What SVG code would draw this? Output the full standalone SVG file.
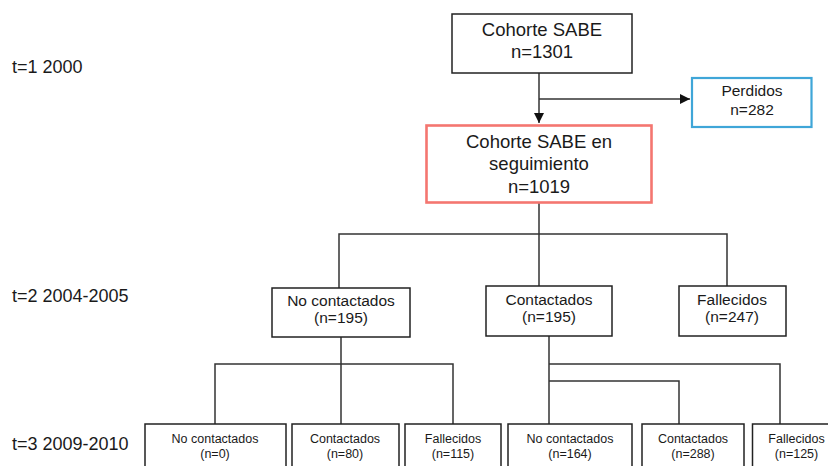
<svg xmlns="http://www.w3.org/2000/svg" width="828" height="466" viewBox="0 0 828 466">
<style>
text{font-family:"Liberation Sans",Arial,Helvetica,sans-serif;fill:#1a1a1a;text-anchor:middle}
.lbl{text-anchor:start;font-size:18px}
.box{fill:#fff;stroke:#222;stroke-width:1.5}
.t1{font-size:18.5px}
.t2{font-size:15.5px}
.t3{font-size:12.5px}
.con{fill:none;stroke:#333;stroke-width:1.5}
</style>
<defs>
<marker id="arr" viewBox="0 0 10 10" refX="10" refY="5" markerWidth="10" markerHeight="10" markerUnits="userSpaceOnUse" orient="auto">
<path d="M0,0 L10,5 L0,10 Z" fill="#111"/>
</marker>
</defs>
<rect width="828" height="466" fill="#fff"/>
<text class="lbl" x="12" y="72.5">t=1 2000</text>
<text class="lbl" x="12" y="302">t=2 2004-2005</text>
<text class="lbl" x="12" y="450">t=3 2009-2010</text>
<g id="connectors">
<path class="con" d="M539,73 V123" marker-end="url(#arr)"/>
<path class="con" d="M539,99 H690" marker-end="url(#arr)"/>
<path class="con" d="M539,202 V234 M339,288 V234 H727 V286 M539,234 V286"/>
<path class="con" d="M341,337 V364 M215,424 V364 H453 V424 M341,364 V424"/>
<path class="con" d="M549,336 V424 M549,364 H780 V424 M549,381 H679 V424"/>
</g>
<g id="cohorte">
<rect class="box" x="452" y="14" width="180" height="59"/>
<text class="t1" x="542" y="36">Cohorte SABE</text>
<text class="t1" x="542" y="57.5">n=1301</text>
</g>
<g id="perdidos">
<rect x="692" y="78" width="119.5" height="49" fill="#fff" stroke="#3fa6d8" stroke-width="2.2"/>
<text class="t2" x="752" y="96">Perdidos</text>
<text class="t2" x="752" y="115">n=282</text>
</g>
<g id="seguimiento">
<rect x="426.5" y="125.5" width="225" height="77" fill="#fff" stroke="#f47670" stroke-width="2.6"/>
<text class="t1" x="539" y="148">Cohorte SABE en</text>
<text class="t1" x="539" y="169.5">seguimiento</text>
<text class="t1" x="539" y="193">n=1019</text>
</g>
<g id="nocont2">
<rect class="box" x="272" y="288" width="138" height="49"/>
<text class="t2" x="341" y="306">No contactados</text>
<text class="t2" x="341" y="323">(n=195)</text>
</g>
<g id="cont2">
<rect class="box" x="486" y="286" width="126" height="50"/>
<text class="t2" x="549" y="304.5">Contactados</text>
<text class="t2" x="549" y="321.5">(n=195)</text>
</g>
<g id="fall2">
<rect class="box" x="679" y="286" width="107" height="50"/>
<text class="t2" x="732" y="304.5">Fallecidos</text>
<text class="t2" x="732" y="321.5">(n=247)</text>
</g>
<g id="n3a">
<rect class="box" x="145" y="424" width="141" height="50"/>
<text class="t3" x="215" y="443">No contactados</text>
<text class="t3" x="215" y="457.5">(n=0)</text>
</g>
<g id="n3b">
<rect class="box" x="292" y="424" width="107" height="50"/>
<text class="t3" x="345" y="443">Contactados</text>
<text class="t3" x="345" y="457.5">(n=80)</text>
</g>
<g id="n3c">
<rect class="box" x="405" y="424" width="96" height="50"/>
<text class="t3" x="453" y="443">Fallecidos</text>
<text class="t3" x="453" y="457.5">(n=115)</text>
</g>
<g id="n3d">
<rect class="box" x="508" y="424" width="124" height="50"/>
<text class="t3" x="570" y="443">No contactados</text>
<text class="t3" x="570" y="457.5">(n=164)</text>
</g>
<g id="n3e">
<rect class="box" x="642" y="424" width="102" height="50"/>
<text class="t3" x="693" y="443">Contactados</text>
<text class="t3" x="693" y="457.5">(n=288)</text>
</g>
<g id="n3f">
<rect class="box" x="752.5" y="424" width="88" height="50"/>
<text class="t3" x="796.5" y="443">Fallecidos</text>
<text class="t3" x="796.5" y="457.5">(n=125)</text>
</g>
</svg>
